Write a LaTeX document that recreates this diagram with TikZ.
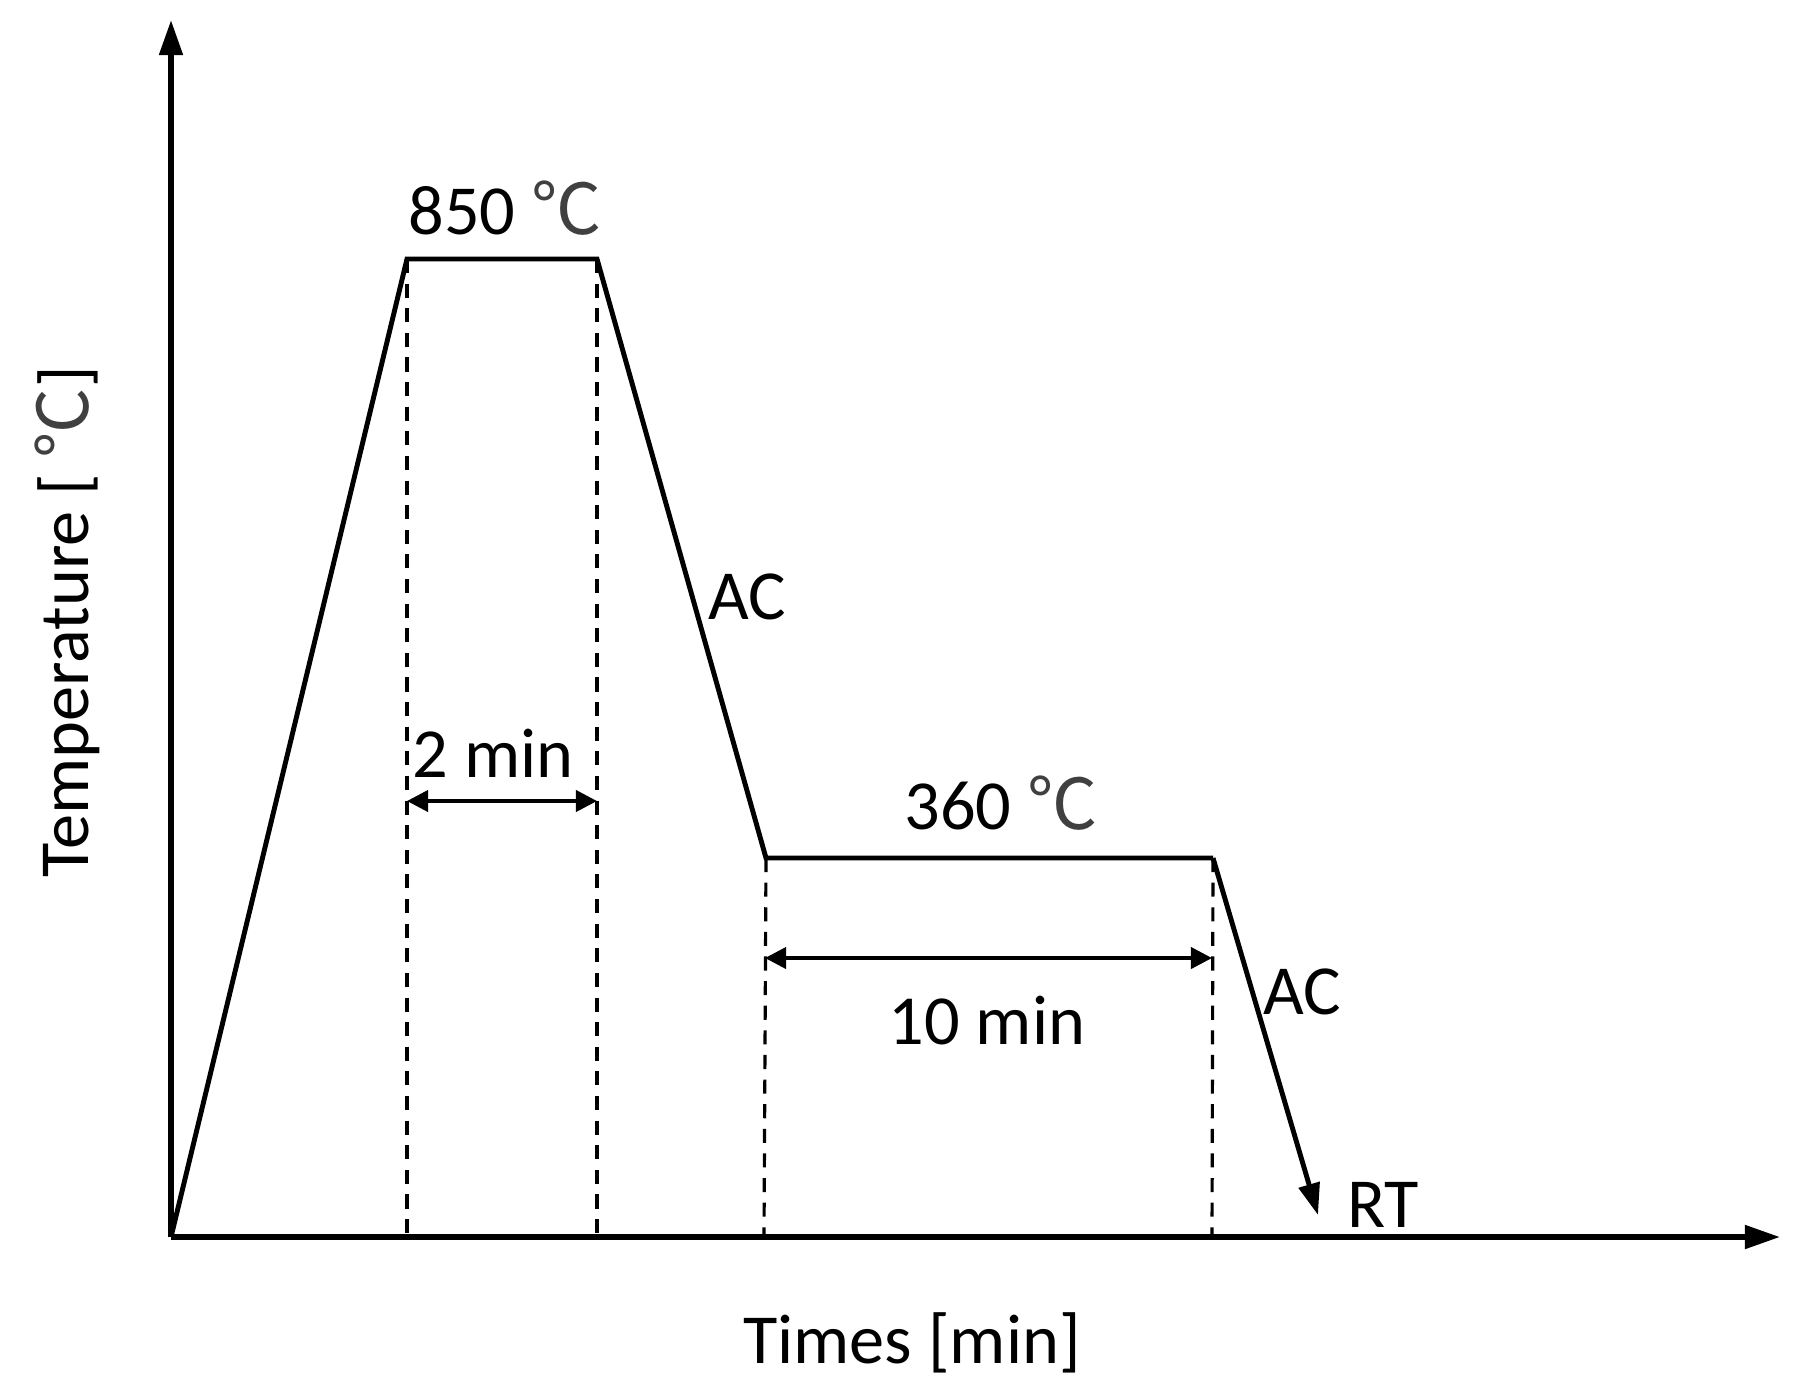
\documentclass[tikz,border=0pt]{standalone}
\usepackage{fontspec}
\setmainfont{Carlito}
\newfontfamily\degfont{Noto Sans CJK SC}
\usetikzlibrary{arrows.meta}
\newcommand{\degC}{{\degfont\color{black!75}℃}}
\begin{document}
\begin{tikzpicture}[x=0.01cm,y=-0.01cm,
  axis/.style={line width=1.6pt,-{Triangle[length=10pt,width=6.5pt]}},
  curve/.style={line width=1.4pt},
  guide/.style={line width=0.9pt,dash pattern=on 4pt off 3pt},
  dim/.style={line width=1.1pt,{Triangle[length=6pt,width=6pt]}-{Triangle[length=6pt,width=6pt]}},
  lbl/.style={font=\fontsize{20}{24}\selectfont,inner sep=0pt}]
\useasboundingbox (0,0) rectangle (1815,1393);
\coordinate (O) at (171,1237);
\coordinate (ytop) at (171,20);
\coordinate (xend) at (1780,1237);
\coordinate (A) at (407,259);
\coordinate (B) at (597,259);
\coordinate (C) at (766,858);
\coordinate (D) at (1213,858);
\coordinate (E) at (1318,1215);
\coordinate (Ab) at (407,1237);
\coordinate (Bb) at (597,1237);
\coordinate (Cb) at (764,1237);
\coordinate (Db) at (1212,1237);
\coordinate (d1l) at (407,801);
\coordinate (d1r) at (597,801);
\coordinate (d2l) at (765,958);
\coordinate (d2r) at (1212,958);
% guides
\draw[guide] (A) -- (Ab);
\draw[guide] (B) -- (Bb);
\draw[guide] (C) -- (Cb);
\draw[guide] (D) -- (Db);
% axes
\draw[axis] (O) -- (ytop);
\draw[axis] (O) -- (xend);
% curve
\draw[curve,line join=miter] (O) -- (A) -- (B) -- (C) -- (D);
\draw[curve,-{Triangle[length=9pt,width=6pt]}] (D) -- (E);
% dims
\draw[dim] (d1l) -- (d1r);
\draw[dim] (d2l) -- (d2r);
% labels
\node[lbl] (t850) at (505,208) {850 \degC};
\node[lbl] (t360) at (1001,803) {360 \degC};
\node[lbl] (m2) at (493,753) {2 min};
\node[lbl] (m10) at (987,1021) {10 min};
\node[lbl] (ac1) at (747,597) {AC};
\node[lbl] (ac2) at (1302,992) {AC};
\node[lbl] (rt) at (1383,1205) {RT};
\node[lbl] (xl) at (912,1343) {Times [min]};
\node[lbl,rotate=90] (yl) at (67,622) {Temperature [ \degC]};
\end{tikzpicture}
\end{document}
